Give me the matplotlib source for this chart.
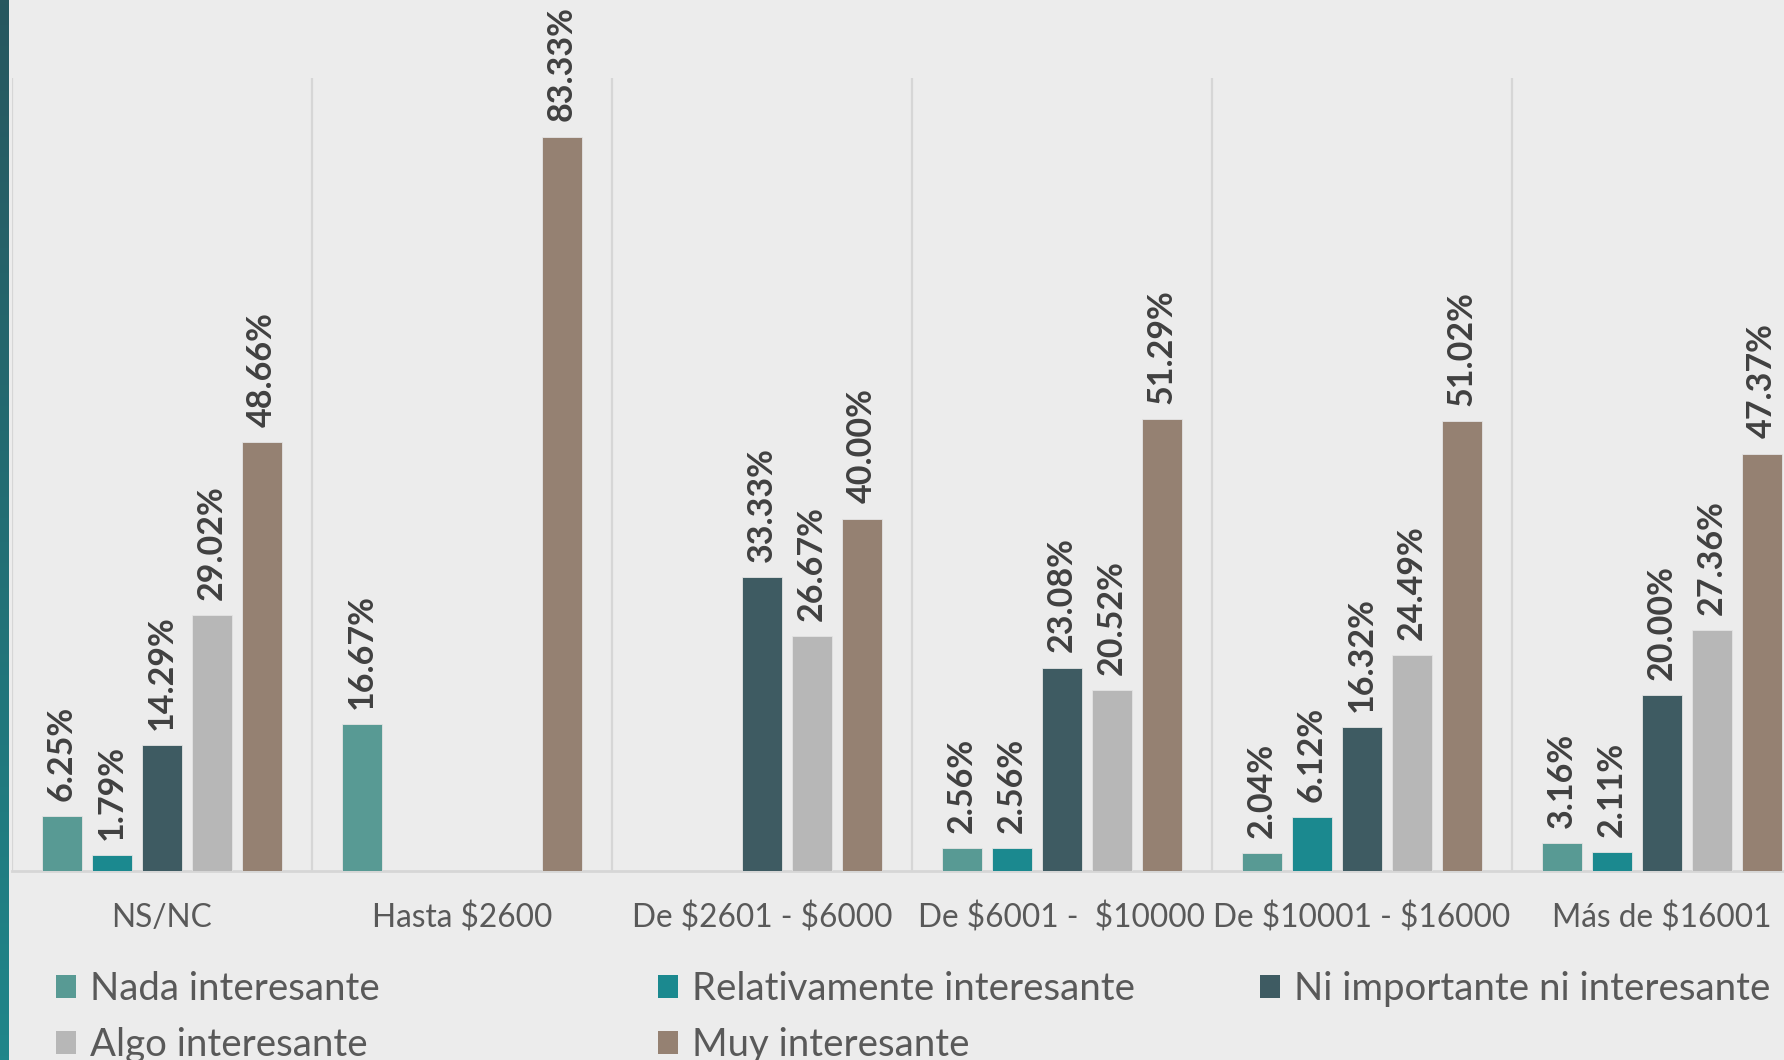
import numpy as np
import matplotlib
matplotlib.use("Agg")
import matplotlib.pyplot as plt
from matplotlib.patches import Patch
from matplotlib.colors import LinearSegmentedColormap

plt.rcParams['font.family'] = ['Lato', 'DejaVu Sans']
plt.rcParams['text.parse_math'] = False

# ---- data ----
categories = ['NS/NC', 'Hasta $2600', 'De $2601 - $6000', 'De $6001 -  $10000',
              'De $10001 - $16000', 'Más de $16001']
series = ['Nada interesante', 'Relativamente interesante', 'Ni importante ni interesante',
          'Algo interesante', 'Muy interesante']
nada = [6.25, 16.67, 0, 2.56, 2.04, 3.16]
relativamente = [1.79, 0, 0, 2.56, 6.12, 2.11]
ni_importante = [14.29, 0, 33.33, 23.08, 16.32, 20.00]
algo = [29.02, 0, 26.67, 20.52, 24.49, 27.36]
muy = [48.66, 83.33, 40.00, 51.29, 51.02, 47.37]
values = [nada, relativamente, ni_importante, algo, muy]
colors = ['#589A94', '#1B898F', '#3E5B62', '#B7B7B7', '#958172']

bg = '#ECECEC'
W, H = 1784, 1060
fig = plt.figure(figsize=(W / 100, H / 100), dpi=100, facecolor=bg)

# plot area (right part is cut off by the canvas, like the reference)
ax = fig.add_axes([12 / W, 1 - 871 / H, 1800 / W, (871 - 78) / H])
ax.set_facecolor(bg)

x = np.arange(len(categories))
step = 1 / 6
bw = 0.1333
for i, (vals, col) in enumerate(zip(values, colors)):
    pos = x + (i - 2) * step
    bars = ax.bar(pos, vals, width=bw, color=col, edgecolor='#E4E4E4', linewidth=0.6, zorder=3)
    for b, v in zip(bars, vals):
        if v > 0:
            ax.annotate(f'{v:.2f}%', (b.get_x() + b.get_width() / 2, v),
                        xytext=(0, 11), textcoords='offset points',
                        rotation=90, ha='center', va='bottom',
                        fontsize=24.5, fontweight='bold', color='#404040')

for g in np.arange(-0.5, len(categories), 1):
    ax.axvline(g, color='#D6D6D6', lw=1.6, zorder=1)

ax.set_xlim(-0.5, len(categories) - 0.5)
ax.set_ylim(0, 90)
ax.set_yticks([])
ax.set_xticks(x)
ax.set_xticklabels(categories, fontsize=22.8, color='#595959')
ax.tick_params(axis='x', length=0, pad=23)
for s in ['top', 'right', 'left']:
    ax.spines[s].set_visible(False)
ax.spines['bottom'].set_color('#D6D6D6')
ax.spines['bottom'].set_linewidth(2)

# left accent strip
sax = fig.add_axes([0, 0, 9 / W, 1])
grad = np.linspace(0, 1, 256).reshape(-1, 1)
cmap = LinearSegmentedColormap.from_list('strip', ['#27575F', '#1F868A'])
sax.imshow(grad, aspect='auto', cmap=cmap)
sax.axis('off')

# legend, laid out in three fixed columns
handles = [Patch(facecolor=c) for c in colors]
cols = [([0, 3], 56), ([1, 4], 658), ([2], 1260)]
for idx, xpx in cols:
    yc = 1 - (1017 if len(idx) == 2 else 989) / H
    fig.legend([handles[k] for k in idx], [series[k] for k in idx],
               loc='center left', bbox_to_anchor=(xpx / W, yc),
               frameon=False, fontsize=27.6, labelcolor='#595959',
               handlelength=0.53, handleheight=0.53, handletextpad=0.37,
               labelspacing=0.52, borderpad=0, borderaxespad=0)

fig.savefig('out.png', dpi=100, facecolor=bg)
